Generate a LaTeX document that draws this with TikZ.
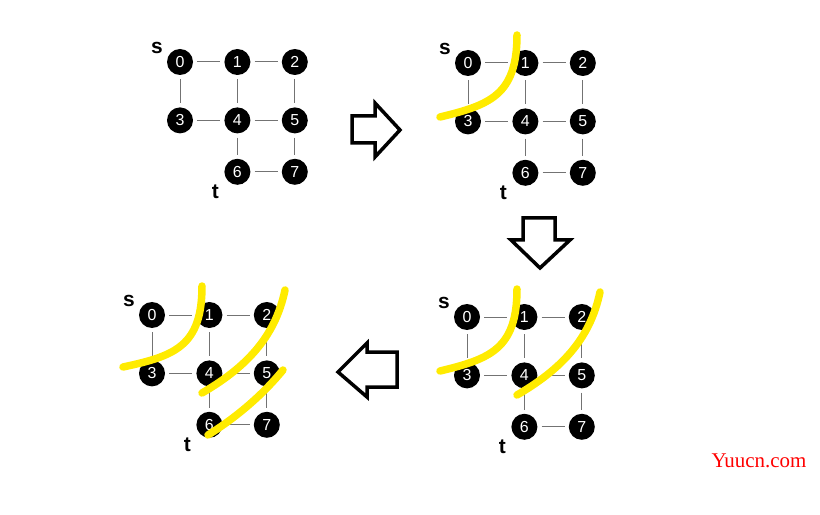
\documentclass[tikz,border=0pt]{standalone}
\usepackage{fontspec}
\setmainfont{Liberation Serif}
\newfontfamily\handfont{Liberation Sans}
\usetikzlibrary{positioning}
\definecolor{cutyellow}{RGB}{255,235,0}

\begin{document}
\begin{tikzpicture}[x=1bp, y=-1bp]
\tikzstyle{main}=[circle, fill=black, text=white, inner sep=0pt, minimum size=26bp, font=\handfont\fontsize{16}{16}\selectfont]
\tikzstyle{tag}=[font=\handfont\bfseries\fontsize{21}{21}\selectfont]
\tikzstyle{connect}=[draw=black!55, line width=1bp, shorten <=4bp, shorten >=4bp]
\tikzstyle{cut}=[draw=cutyellow, line width=7.5bp, line cap=round]
\tikzstyle{hollow}=[draw=black, line width=3.5bp, fill=white]
\useasboundingbox (0,0) rectangle (820,515);

% four copies of the same graph
\foreach \g/\gx/\gy in {a/180/62, b/468/63, c/152/315, d/467/317} {
    \node[main] (\g0) at (\gx,\gy) {0};
    \node[main] (\g1) [right=31bp of \g0] {1};
    \node[main] (\g2) [right=31bp of \g1] {2};
    \node[main] (\g3) [below=32bp of \g0] {3};
    \node[main] (\g4) [right=31bp of \g3] {4};
    \node[main] (\g5) [right=31bp of \g4] {5};
    \node[main] (\g6) [below=25bp of \g4] {6};
    \node[main] (\g7) [right=31bp of \g6] {7};
    \node[tag] (\g-s) at ([shift={(-23,-14)}]\g0) {s};
    \node[tag] (\g-t) at ([shift={(-22,20)}]\g6) {t};
    \foreach \u/\v in {0/1, 1/2, 0/3, 1/4, 2/5, 3/4, 4/5, 4/6, 5/7, 6/7}
        \draw[connect] (\g\u) -- (\g\v);
}

% cuts
\draw[cut] (517,35) .. controls (517,95) and (490,105) .. (440,117);
\draw[cut] (517,289) .. controls (517,349) and (490,359) .. (440,371);
\draw[cut] (600,292) .. controls (590,340) and (560,370) .. (517,395);
\draw[cut] (202,286) .. controls (202,346) and (175,356) .. (123,367);
\draw[cut] (285,290) .. controls (275,338) and (245,368) .. (202,393);
\draw[cut] (283,370) .. controls (265,392) and (240,415) .. (208,435);

% arrows between the steps
\draw[hollow] (352,116) -- (375,116) -- (375,103) -- (400,130) -- (375,157) -- (375,143) -- (352,143) -- cycle;
\draw[hollow] (523,218) -- (555,218) -- (555,240) -- (570,240) -- (540,268) -- (511,240) -- (523,240) -- cycle;
\draw[hollow] (397,352) -- (367,352) -- (367,343) -- (338,372) -- (367,397) -- (367,387) -- (397,387) -- cycle;

\node[text=red, font=\fontsize{21}{21}\selectfont] (mark) at (759,461) {Yuucn.com};
\end{tikzpicture}
\end{document}
